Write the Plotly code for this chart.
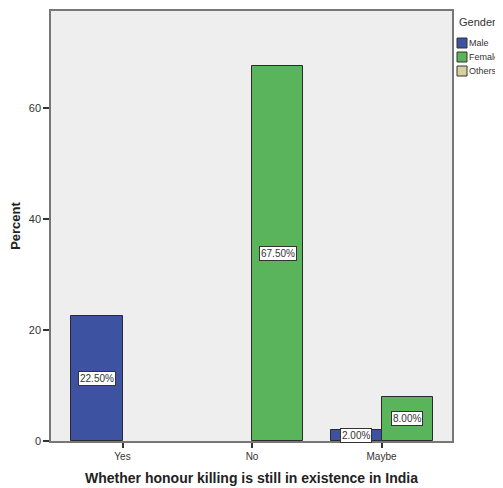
import plotly.graph_objects as go

categories = ["Yes", "No", "Maybe"]
male = [22.5, None, 2.0]
female = [None, 67.5, 8.0]
others = [None, None, None]
series_names = ["Male", "Female", "Others"]
colors = ["#3d52a1", "#59b45b", "#d6d19e"]
tick_vals = [0, 20, 40, 60]

FONT = "Liberation Sans, Arial"
bw = 0.394
xpos = list(range(len(categories)))

fig = go.Figure()
for vals, name, col, off in [(male, "Male", colors[0], -bw),
                             (female, "Female", colors[1], 0.0),
                             (others, "Others", colors[2], 0.0)]:
    fig.add_trace(go.Bar(x=xpos, y=vals, name=name, width=bw, offset=off,
                         marker=dict(color=col, line=dict(color="#2b2b2b", width=1)),
                         showlegend=False))

# value labels
for series, off in [(male, -bw / 2), (female, bw / 2)]:
    for i, v in enumerate(series):
        if v is None:
            continue
        fig.add_annotation(x=xpos[i] + off, y=v / 2, xref="x", yref="y", text=f"{v:.2f}%",
                           showarrow=False, bgcolor="white", bordercolor="#333",
                           borderwidth=1, borderpad=1,
                           font=dict(family=FONT, size=10, color="#333"))

# plot area in window pixels: x 51..452, y 11..441
def px(X):
    return (X - 51) / 401

def py(Y):
    return (441 - Y) / 430

# manual legend
fig.add_annotation(x=px(457), y=py(22), xref="paper", yref="paper", text="Gender", showarrow=False,
                   xanchor="left", yanchor="middle", font=dict(family=FONT, size=11, color="#333"))
for k, (name, col) in enumerate(zip(series_names, colors)):
    yc = 43 + k * 14
    fig.add_shape(type="rect", xref="paper", yref="paper",
                  x0=px(457), x1=px(467), y0=py(yc + 5), y1=py(yc - 5),
                  fillcolor=col, line=dict(color="#333", width=1))
    fig.add_annotation(x=px(467), y=py(yc), xref="paper", yref="paper", text=name,
                       showarrow=False, xanchor="left", yanchor="middle",
                       font=dict(family=FONT, size=9, color="#333"))

# page body has an 8px margin: figure is offset by 8px in the window
fig.update_layout(
    width=495, height=480,
    margin=dict(l=43, r=51, t=3, b=47, autoexpand=False),
    paper_bgcolor="white", plot_bgcolor="#eeeeee",
    font=dict(family=FONT, size=10, color="#333"),
    xaxis=dict(tickvals=xpos, ticktext=categories,
               range=[-0.552, 2.544], showline=True, linecolor="#777", linewidth=1.5, mirror=True,
               ticks="outside", ticklen=5, tickcolor="#333", tickwidth=1.5, showgrid=False,
               zeroline=False, tickfont=dict(size=10, color="#333"),
               title=dict(text="<b>Whether honour killing is still in existence in India</b>",
                          font=dict(size=14, color="#222"), standoff=12)),
    yaxis=dict(range=[0, 77.5], tickvals=tick_vals, showline=True, linecolor="#777", linewidth=1.5,
               mirror=True, ticks="outside", ticklen=6, tickcolor="#333", tickwidth=1.5,
               showgrid=False, zeroline=False, tickfont=dict(size=11, color="#333"),
               title=dict(text="<b>Percent</b>", font=dict(size=13, color="#222"), standoff=10)),
    bargap=0, showlegend=False,
)
fig.write_html("out.html")
